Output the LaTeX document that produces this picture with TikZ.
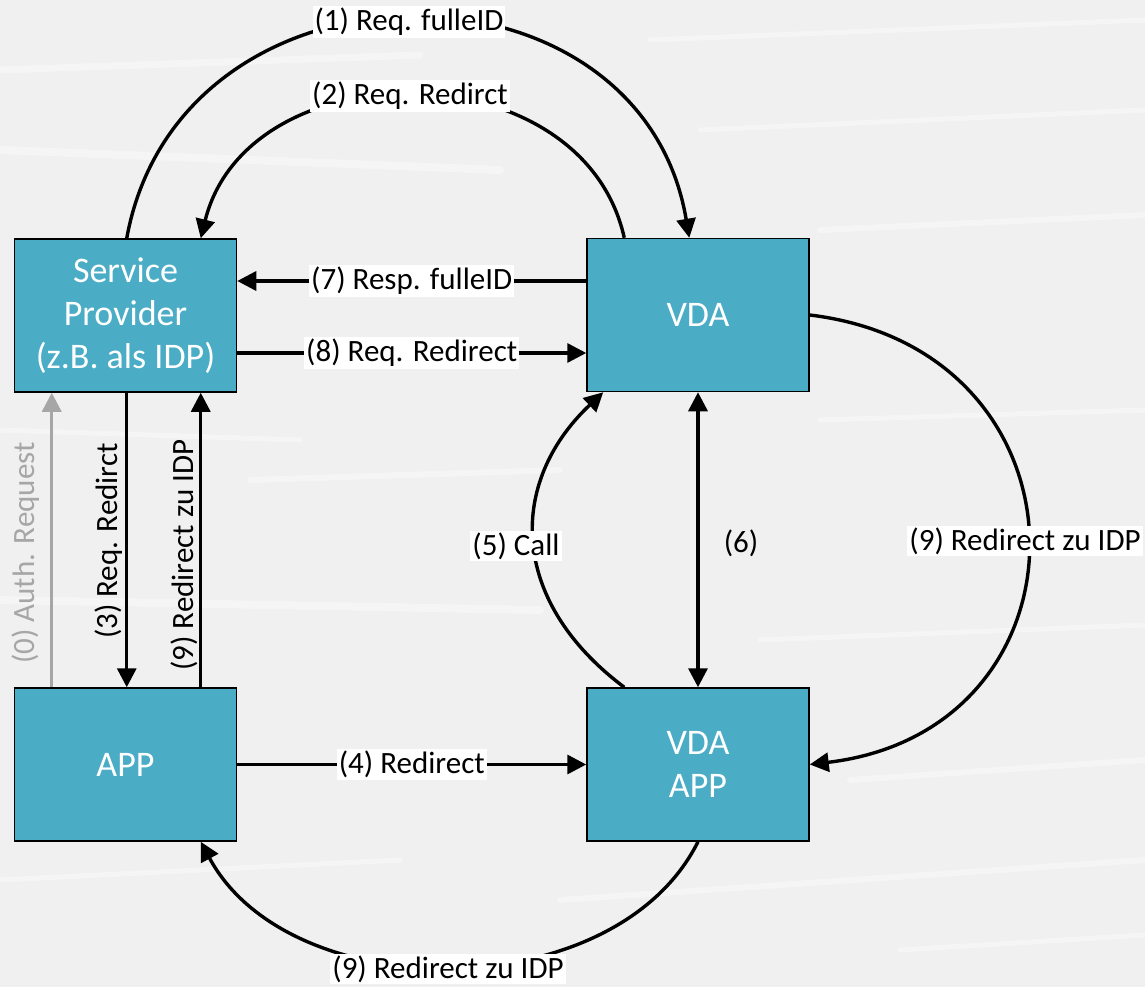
\documentclass[tikz,border=0pt]{standalone}
\usepackage{fontspec}
\setmainfont{Carlito}
\usetikzlibrary{arrows.meta,calc}
\definecolor{boxfill}{RGB}{75,172,198}
\definecolor{bgcol}{RGB}{240,240,240}
\definecolor{authgray}{RGB}{166,166,166}
\tikzset{
  entity/.style={draw=black, line width=1.5pt, fill=boxfill, text=white,
    minimum width=222pt, minimum height=153pt, inner sep=0pt, align=center,
    font=\fontsize{36}{43}\selectfont},
  flow/.style={line width=3.4pt, -{Triangle[length=19pt,width=19pt]}},
  biflow/.style={line width=3.4pt, {Triangle[length=19pt,width=19pt]}-{Triangle[length=19pt,width=19pt]}},
  lbl/.style={font=\fontsize{31}{37}\selectfont, inner sep=2pt},
  lblw/.style={lbl, fill=white},
  streak/.style={white, opacity=0.35, line cap=round}
}
\begin{document}
\begin{tikzpicture}[x=1pt,y=-1pt]
  % canvas
  \useasboundingbox (0,0) rectangle (1145,987);
  \fill[bgcol] (0,0) rectangle (1145,987);
  \begin{scope}
    \clip (0,0) rectangle (1145,987);
    \draw[streak, line width=7pt] (0,70) -- (420,55);
    \draw[streak, line width=5pt] (650,40) -- (1145,20);
    \draw[streak, line width=8pt] (0,150) -- (500,170);
    \draw[streak, line width=5pt] (700,130) -- (1145,110);
    \draw[streak, line width=6pt] (820,230) -- (1145,215);
    \draw[streak, line width=5pt] (0,430) -- (300,440);
    \draw[streak, line width=6pt] (250,480) -- (560,470);
    \draw[streak, line width=5pt] (820,420) -- (1145,410);
    \draw[streak, line width=8pt] (0,600) -- (540,610);
    \draw[streak, line width=5pt] (760,640) -- (1145,625);
    \draw[streak, line width=6pt] (850,780) -- (1145,760);
    \draw[streak, line width=5pt] (0,880) -- (400,860);
    \draw[streak, line width=6pt] (560,900) -- (1145,860);
    \draw[streak, line width=5pt] (900,950) -- (1145,935);
  \end{scope}

  % entities
  \node[entity] (sp)  at (125.5,315.5) {Service\\Provider\\(z.B. als IDP)};
  \node[entity] (vda) at (698,315)     {VDA};
  \node[entity] (app) at (125.5,764.5) {APP};
  \node[entity] (vapp) at (698,764.5)  {VDA\\APP};

  % attachment points
  \coordinate (spN1) at ($(sp.north west)+(113,0)$);
  \coordinate (spN2) at ($(sp.north west)+(187,0)$);
  \coordinate (spS0) at ($(sp.south west)+(38,0)$);
  \coordinate (spS1) at ($(sp.south west)+(113,0)$);
  \coordinate (spS2) at ($(sp.south west)+(187,0)$);
  \coordinate (appN0) at ($(app.north west)+(38,0)$);
  \coordinate (appN1) at ($(app.north west)+(113,0)$);
  \coordinate (appN2) at ($(app.north west)+(187,0)$);
  \coordinate (appS2) at ($(app.south west)+(187,0)$);
  \coordinate (vdaN1) at ($(vda.north west)+(38,0)$);
  \coordinate (vdaN2) at ($(vda.north west)+(103,0)$);
  \coordinate (vdaS1) at ($(vda.south west)+(17,0)$);
  \coordinate (vappN1) at ($(vapp.north west)+(38,0)$);

  % (1) and (2) over the top
  \draw[flow] (spN1) .. controls (180,-55) and (640,-55) .. (vdaN2);
  \node[lblw] at (409,22) {(1) Req. fulleID};
  \draw[flow] (vdaN1) .. controls (582,48) and (248,48) .. (spN2);
  \node[lblw] at (410,96) {(2) Req. Redirct};

  % (7) and (8)
  \draw[flow] (vda.west |- 0,281) -- node[lblw] {(7) Resp. fulleID} (sp.east |- 0,281);
  \draw[flow] (sp.east |- 0,353) -- node[lblw] {(8) Req. Redirect} (vda.west |- 0,353);

  % vertical links between service provider and app
  \draw[flow, authgray] (appN0) -- (spS0);
  \node[lbl, text=authgray, rotate=90] at (26,553) {(0) Auth. Request};
  \draw[flow] (spS1) -- (appN1);
  \node[lbl, rotate=90] at (109,541) {(3) Req. Redirct};
  \draw[flow] (appN2) -- (spS2);
  \node[lbl, rotate=90] at (184,555) {(9) Redirect zu IDP};

  % (4)
  \draw[flow] (app.east) -- node[lblw] {(4) Redirect} (vapp.west);

  % (5) and (6)
  \draw[flow] (vappN1) .. controls (508,600) and (508,482) .. (vdaS1);
  \node[lblw] at (516,546) {(5) Call};
  \draw[biflow] (vda.south) -- (vapp.north);
  \node[lbl] at (741,543) {(6)};

  % (9) on the right
  \draw[flow] (vda.east) .. controls (1100,350) and (1100,730) .. (vapp.east);
  \node[lblw] at (1025,541) {(9) Redirect zu IDP};

  % (9) along the bottom
  \draw[flow] (vapp.south) .. controls (615,1008) and (290,1008) .. (appS2);
  \node[lblw] at (448,969) {(9) Redirect zu IDP};
\end{tikzpicture}
\end{document}
